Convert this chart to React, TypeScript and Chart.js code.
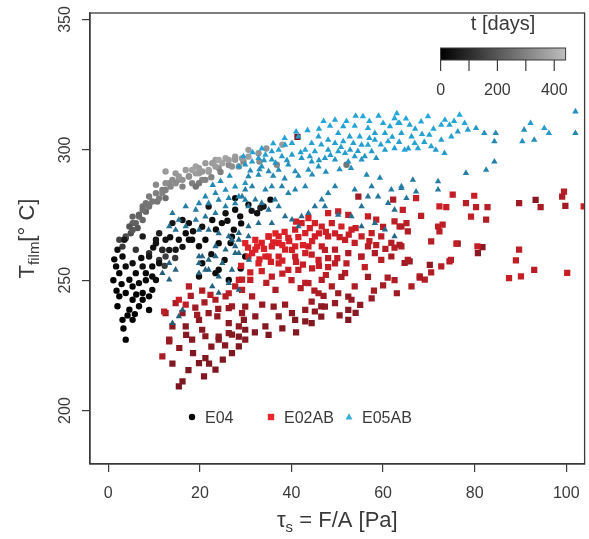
import { useEffect, useRef } from 'react';
import Chart from 'chart.js/auto';

const X_TICKS = [0, 20, 40, 60, 80, 100];
const Y_TICKS = [200, 250, 300, 350];
const T_TICKS = [0, 100, 200, 300, 400];
const T_LABELS = [0, 200, 400];
const T_MAX = 440;

// [tau_s (Pa), T_film (deg C), t (days)]
const e04: number[][] = [
  [12.5, 291.7, 400], [14.7, 291.0, 390], [16.9, 292.3, 410], [19.1, 293.6, 420], [21.2, 294.9, 400],
  [23.4, 296.1, 410], [25.6, 296.8, 420], [27.7, 297.4, 400], [15.4, 288.5, 370], [17.6, 289.8, 380],
  [19.8, 291.0, 390], [21.9, 291.7, 380], [24.1, 293.0, 370], [26.3, 294.2, 360], [10.4, 286.6, 360],
  [11.8, 284.6, 330], [13.3, 287.2, 350], [8.9, 282.1, 320], [10.7, 280.2, 300], [12.5, 281.5, 280],
  [7.5, 278.3, 300], [6.7, 274.4, 280], [8.2, 276.3, 260], [5.3, 271.9, 250], [6.4, 270.0, 220],
  [4.9, 268.0, 200], [3.8, 266.1, 180], [3.1, 262.9, 150], [8.9, 278.9, 320], [16.2, 285.9, 340],
  [18.3, 287.2, 330], [20.5, 288.5, 350], [28.5, 293.6, 380], [30.6, 300.0, 400], [32.8, 298.7, 380],
  [27.7, 296.2, 390], [27.0, 293.6, 370], [36.8, 294.3, 350], [52.0, 294.3, 300], [34.5, 300.5, 380],
  [38.0, 302.0, 400], [24.5, 291.5, 330], [22.5, 289.5, 340], [29.5, 295.5, 350], [33.0, 295.5, 360],
  [2.4, 265.5, 170], [3.8, 266.8, 200], [5.3, 269.3, 230], [6.0, 271.9, 250], [7.5, 273.1, 270],
  [6.7, 275.1, 260], [8.9, 278.3, 300], [9.6, 280.2, 310], [11.1, 281.4, 320], [11.8, 283.4, 340],
  [12.5, 284.6, 330], [13.6, 285.9, 350], [14.7, 287.2, 360], [16.2, 288.5, 380], [17.6, 289.8, 370],
  [19.1, 291.0, 400], [20.5, 291.7, 390], [21.9, 292.3, 410], [23.4, 293.6, 400], [24.9, 294.9, 420],
  [26.3, 296.1, 410], [29.2, 296.8, 400], [30.6, 297.4, 410], [15.4, 289.8, 390], [18.3, 292.3, 420],
  [19.8, 293.0, 410], [22.7, 294.9, 400], [24.1, 296.1, 430], [12.5, 287.2, 370], [14.0, 288.5, 360],
  [10.4, 283.4, 330], [8.2, 279.5, 300], [7.5, 277.0, 290], [5.3, 274.4, 260], [4.6, 270.6, 220],
  [19.8, 287.2, 320], [21.2, 288.5, 340], [19.1, 285.9, 300],
  [3.5, 265.5, 60], [2.0, 261.7, 40], [3.1, 259.1, 30], [1.7, 255.3, 20], [2.4, 252.7, 10],
  [3.8, 255.3, 30], [5.3, 256.5, 40], [4.6, 250.2, 10], [5.3, 247.6, 5], [6.7, 248.9, 20],
  [3.8, 245.1, 5], [5.3, 242.5, 0], [2.4, 243.8, 10], [2.0, 240.0, 0], [4.6, 238.7, 5],
  [6.7, 240.0, 15], [3.1, 234.8, 0], [5.3, 234.8, 5], [3.8, 227.2, 0], [8.2, 252.7, 20],
  [9.6, 251.4, 30], [7.5, 255.3, 40], [9.6, 255.3, 30], [11.1, 257.8, 140], [12.5, 259.1, 160],
  [11.8, 261.7, 180], [10.4, 265.5, 60], [12.5, 265.5, 50], [15.4, 265.5, 40], [16.9, 268.0, 30],
  [18.3, 265.5, 20], [19.8, 263.0, 30], [14.7, 261.7, 60], [8.9, 260.4, 120], [6.0, 261.7, 130],
  [7.5, 266.8, 70], [21.2, 265.5, 20], [22.7, 273.1, 40], [24.8, 271.9, 30], [25.6, 275.7, 50],
  [27.7, 277.0, 40], [21.9, 278.3, 60], [17.6, 271.9, 40], [16.2, 273.1, 50], [14.0, 271.9, 60],
  [11.1, 268.0, 80], [6.0, 252.7, 20], [7.5, 245.1, 10], [8.9, 243.8, 20], [27.7, 281.5, 30],
  [33.2, 277.7, 90], [33.9, 278.3, 60], [32.5, 275.7, 40], [35.4, 280.9, 30], [30.6, 279.0, 40],
  [29.9, 259.1, 20], [27.4, 269.4, 30], [26.7, 264.3, 20], [10.4, 264.2, 50], [11.8, 261.6, 100],
  [8.9, 259.1, 60], [11.1, 256.5, 40], [8.2, 250.0, 20], [10.4, 250.1, 30], [9.6, 246.3, 20],
  [7.5, 242.5, 10], [8.9, 238.6, 10], [13.3, 261.6, 60], [17.6, 265.5, 30], [19.8, 251.4, 40],
  [23.4, 252.7, 30], [26.3, 250.1, 20], [24.1, 254.0, 40], [27.0, 266.7, 30], [24.1, 264.2, 20],
  [1.3, 258.0, 20], [1.1, 250.0, 10], [2.9, 248.5, 5], [1.8, 246.0, 5], [4.2, 236.5, 0],
  [3.3, 231.5, 0], [6.1, 244.5, 10], [5.8, 237.0, 5], [7.2, 258.5, 30], [9.8, 262.5, 40],
  [13.5, 266.5, 40], [14.6, 258.5, 150], [12.3, 255.5, 150], [16.2, 262.8, 50], [18.5, 268.8, 40],
  [20.5, 270.5, 50], [23.5, 269.5, 30], [26.0, 272.8, 40], [28.8, 274.5, 40], [31.3, 276.6, 50],
  [29.0, 271.8, 30], [22.5, 260.0, 40], [20.5, 256.5, 30], [25.4, 257.8, 40], [28.9, 254.5, 30],
];

const e02ab: number[][] = [
  [67.2, 281.5, 300], [64.3, 277.0, 280], [68.3, 274.7, 250], [65.1, 271.9, 260], [63.6, 270.6, 240],
  [65.4, 268.7, 220], [63.6, 263.6, 200], [72.3, 278.3, 320], [73.8, 278.0, 300], [75.2, 282.8, 280],
  [78.1, 279.6, 250], [79.9, 282.4, 300], [80.3, 278.0, 260], [82.8, 278.0, 240], [79.2, 274.4, 280],
  [82.5, 273.2, 220], [72.0, 270.6, 290], [73.0, 271.3, 270], [72.3, 268.7, 250], [70.5, 264.9, 240],
  [76.3, 264.0, 100], [81.7, 262.7, 80], [80.7, 260.4, 60], [74.5, 257.2, 200], [72.7, 255.3, 250],
  [70.2, 255.9, 100], [64.7, 256.6, 150], [65.8, 257.2, 120], [68.0, 251.5, 280], [69.1, 250.2, 240],
  [66.2, 247.6, 200], [89.7, 279.6, 150], [93.3, 280.8, 60], [94.4, 278.0, 200], [99.5, 284.0, 250],
  [99.1, 282.1, 200], [99.8, 278.5, 150], [103.8, 278.3, 300], [89.7, 261.7, 260], [89.0, 257.6, 280],
  [87.5, 250.8, 300], [90.1, 251.5, 280], [93.0, 254.0, 250], [100.2, 252.8, 300], [41.3, 305.0, 20],
  [54.6, 282.1, 150], [62.2, 280.9, 200], [50.2, 276.4, 300], [52.4, 275.1, 280], [48.0, 275.7, 320],
  [56.7, 274.5, 300], [58.5, 273.2, 280], [62.5, 272.6, 260], [43.7, 273.8, 350], [45.1, 271.9, 340],
  [42.2, 271.9, 330], [46.6, 270.6, 320], [48.8, 271.9, 300], [50.9, 270.6, 350], [53.1, 269.4, 320],
  [55.3, 266.8, 300], [57.5, 268.1, 280], [59.6, 266.8, 260], [61.8, 264.3, 240], [64.0, 263.0, 200],
  [40.8, 269.4, 330], [43.0, 268.1, 350], [45.1, 266.8, 340], [48.0, 266.8, 310], [51.7, 265.5, 300],
  [53.8, 264.3, 280], [56.7, 263.0, 260], [58.2, 260.4, 200], [61.8, 259.1, 180], [37.2, 266.8, 380],
  [39.3, 266.2, 360], [35.0, 266.8, 370], [33.5, 264.3, 380], [35.7, 263.0, 350], [38.6, 261.7, 340],
  [40.8, 263.0, 360], [43.7, 263.0, 340], [46.6, 263.0, 300], [49.5, 261.7, 250], [52.4, 260.4, 200],
  [32.1, 261.7, 360], [30.6, 259.1, 380], [34.3, 259.1, 350], [37.2, 259.1, 330], [40.8, 259.1, 310],
  [44.4, 259.8, 280], [48.0, 258.5, 250], [55.3, 259.1, 200], [64.0, 270.6, 220],
  [17.6, 247.6, 250], [14.7, 241.2, 200], [16.2, 237.4, 100], [12.5, 237.4, 150], [14.0, 232.3, 80],
  [16.9, 232.3, 60], [19.8, 234.8, 80], [21.9, 237.4, 120], [23.4, 242.5, 200], [25.6, 243.8, 220],
  [27.7, 247.6, 260], [29.2, 250.2, 280], [27.0, 240.0, 150], [29.2, 237.4, 120], [18.3, 227.2, 50],
  [21.2, 228.5, 70], [13.3, 227.2, 100], [24.1, 227.2, 60], [26.3, 229.7, 80], [28.5, 232.3, 100],
  [29.9, 227.2, 60], [12.2, 238.0, 250], [13.3, 226.5, 120], [11.8, 220.8, 200], [15.4, 242.5, 300],
  [16.9, 240.6, 280], [19.4, 236.7, 150], [20.5, 231.0, 60], [22.3, 244.4, 250], [23.8, 236.1, 100],
  [21.2, 220.1, 30], [19.8, 218.2, 20], [23.4, 215.7, 40], [20.9, 213.1, 30], [16.2, 211.2, 20],
  [15.4, 209.3, 10], [26.3, 239.3, 120], [26.3, 233.5, 80], [24.1, 228.4, 60], [27.0, 229.1, 50],
  [28.5, 228.4, 40], [28.5, 224.6, 30], [27.0, 222.0, 20], [29.6, 234.8, 60], [29.9, 239.9, 100],
  [29.9, 231.0, 40], [31.4, 243.8, 200], [31.0, 250.1, 300], [32.1, 236.1, 80], [33.6, 240.6, 120],
  [34.3, 232.3, 50], [36.1, 239.9, 100], [37.2, 236.1, 60], [36.5, 246.3, 200], [38.6, 240.6, 120],
  [40.1, 237.4, 80], [40.8, 234.8, 40], [43.0, 238.6, 100], [43.0, 234.2, 50], [44.4, 233.5, 30],
  [45.1, 238.0, 80], [44.4, 241.8, 150], [45.9, 245.0, 200], [47.3, 239.9, 100], [49.5, 241.2, 120],
  [52.4, 238.6, 60], [52.4, 234.8, 40], [39.3, 254.0, 300], [41.5, 254.0, 280], [37.2, 256.5, 320],
  [35.7, 251.4, 280], [32.8, 256.5, 350], [35.0, 259.1, 380], [31.4, 260.4, 380], [29.9, 264.2, 400],
  [32.1, 265.5, 390], [35.0, 266.7, 360], [37.2, 264.2, 370], [40.1, 261.6, 340], [43.0, 260.4, 320],
  [45.9, 257.8, 300], [47.3, 261.6, 280], [49.5, 256.5, 250], [51.7, 252.7, 220], [53.8, 247.6, 200],
  [43.7, 248.9, 250], [46.6, 250.1, 230], [48.8, 247.6, 200], [50.2, 245.0, 150], [53.1, 242.5, 120],
  [28.5, 250.1, 300], [26.3, 245.0, 250], [29.2, 246.3, 270], [54.0, 237.5, 60], [68.0, 251.0, 200],
  [63.0, 245.0, 150], [70.5, 253.0, 220], [58.0, 246.0, 180], [52.4, 243.7, 100], [46.5, 240.0, 80],
  [43.0, 249.0, 250], [48.0, 255.0, 300], [56.0, 255.0, 280], [61.0, 251.0, 200], [74.8, 257.8, 250],
  [76.0, 264.0, 280], [80.6, 263.0, 300], [65.4, 257.8, 200], [56.7, 251.3, 150], [59.6, 257.8, 250],
  [50.9, 251.3, 180], [55.2, 259.0, 240],
  [30.5, 262.5, 380], [32.5, 263.0, 400], [34.0, 262.0, 390], [36.0, 264.5, 380], [38.0, 263.5, 400],
  [39.5, 265.0, 370], [41.5, 266.5, 360], [42.5, 263.5, 380], [44.5, 265.0, 350], [46.0, 268.0, 340],
  [47.5, 268.5, 330], [49.5, 268.0, 320], [50.5, 266.5, 300], [52.5, 267.5, 310], [54.0, 270.0, 300],
  [44.0, 270.0, 360], [41.0, 272.5, 340], [38.5, 268.5, 380], [36.5, 268.0, 390], [33.0, 258.0, 360],
  [35.5, 257.0, 340], [38.0, 257.5, 350], [41.0, 257.0, 330], [42.5, 256.0, 310], [44.5, 254.5, 290],
  [46.0, 255.5, 300], [33.5, 253.5, 320], [31.0, 253.0, 330], [29.0, 255.5, 340], [34.5, 249.0, 260],
  [38.0, 252.5, 300], [40.0, 250.0, 260], [42.0, 247.0, 220], [45.0, 246.0, 200], [47.5, 252.0, 260],
  [50.0, 258.5, 280], [52.0, 256.5, 260], [57.0, 265.0, 280], [58.5, 263.5, 260], [60.5, 262.0, 240],
  [62.5, 262.5, 230], [60.0, 270.5, 250],
  [18.0, 244.0, 200], [20.5, 246.0, 220], [17.0, 229.0, 60], [15.5, 224.0, 80], [18.5, 222.0, 40],
  [22.5, 224.5, 50], [25.5, 225.0, 60], [14.0, 218.0, 30], [17.5, 215.5, 20], [22.0, 218.0, 30],
  [25.0, 219.5, 40], [19.0, 239.5, 150], [21.0, 241.5, 170], [24.0, 239.0, 130], [32.0, 230.0, 40],
  [35.0, 229.0, 30], [38.0, 231.5, 50], [41.0, 230.0, 40], [46.5, 236.0, 60], [50.5, 236.5, 70],
  [47.0, 244.0, 150], [55.0, 240.5, 100], [57.5, 243.0, 120], [60.0, 248.0, 180], [62.5, 250.0, 200],
];

const e05ab: number[][] = [
  [63.6, 310.2, 400], [65.8, 309.6, 380], [68.3, 310.8, 410], [69.8, 312.8, 420], [72.7, 309.6, 400],
  [74.5, 309.6, 390], [76.7, 313.4, 420], [77.8, 310.2, 400], [78.5, 307.7, 380], [80.3, 308.3, 350],
  [82.1, 306.4, 300], [84.6, 306.4, 250], [84.3, 303.2, 250], [66.2, 305.1, 380], [66.9, 302.6, 400],
  [64.7, 300.0, 390], [67.6, 300.6, 400], [70.1, 305.7, 380], [70.5, 301.3, 390], [72.7, 303.8, 370],
  [73.4, 298.7, 360], [74.9, 305.1, 380], [76.3, 307.0, 360], [92.2, 310.2, 350], [90.8, 307.7, 300],
  [95.2, 308.3, 380], [96.2, 306.4, 350], [93.0, 303.8, 280], [90.4, 303.2, 300], [102.0, 314.7, 300],
  [102.0, 306.4, 250], [84.3, 295.5, 200], [82.5, 292.3, 230], [78.1, 291.1, 200], [72.0, 287.9, 200],
  [66.5, 288.5, 180], [64.0, 285.3, 200], [67.2, 284.0, 170], [72.0, 284.7, 180], [65.1, 281.5, 160],
  [55.6, 312.8, 420], [60.0, 310.2, 400], [62.5, 312.1, 410], [63.3, 310.2, 400], [64.0, 306.4, 380],
  [48.4, 309.2, 400], [51.3, 309.0, 390], [53.8, 309.2, 410], [56.7, 308.3, 400], [58.2, 306.4, 380],
  [60.4, 306.4, 390], [50.2, 306.4, 380], [52.7, 305.1, 370], [54.9, 305.1, 400], [48.0, 303.8, 390],
  [49.5, 302.6, 360], [51.3, 303.2, 400], [53.5, 302.6, 380], [55.3, 301.9, 360], [56.7, 301.9, 400],
  [58.2, 303.8, 380], [61.1, 303.2, 400], [62.5, 300.6, 390], [60.4, 300.0, 370], [57.5, 299.4, 360],
  [56.0, 297.5, 330], [53.8, 297.5, 350], [51.7, 298.7, 370], [50.2, 299.4, 380], [48.0, 300.0, 350],
  [47.3, 296.8, 330], [49.5, 296.2, 320], [52.4, 295.5, 300], [55.3, 296.2, 320], [58.5, 296.8, 300],
  [45.9, 305.1, 380], [44.4, 302.6, 390], [43.0, 300.0, 400], [45.1, 299.4, 370], [41.5, 305.1, 360],
  [40.1, 302.6, 380], [38.6, 301.9, 400], [37.2, 300.0, 390], [35.7, 299.4, 370], [34.3, 298.1, 380],
  [32.8, 296.8, 360], [31.4, 295.5, 350], [29.9, 294.3, 340], [28.5, 293.6, 330], [33.5, 293.6, 300],
  [35.7, 296.2, 320], [37.9, 297.5, 350], [40.1, 298.1, 360], [42.2, 296.8, 340], [44.4, 295.5, 330],
  [39.3, 294.3, 300], [37.2, 292.3, 280], [35.0, 291.7, 260], [32.8, 290.4, 250], [30.6, 289.8, 240],
  [40.8, 291.7, 280], [43.7, 292.3, 300], [45.9, 293.6, 310], [56.4, 290.4, 250], [59.3, 289.2, 230],
  [57.5, 286.0, 200], [61.8, 284.7, 180], [64.0, 286.0, 200], [58.9, 282.1, 160], [56.7, 282.1, 150],
  [61.1, 279.6, 140], [62.5, 277.0, 120], [55.3, 278.3, 150], [53.8, 284.7, 200], [49.5, 286.0, 220],
  [48.0, 283.4, 200], [46.6, 280.9, 180], [45.1, 278.3, 150], [43.7, 275.7, 140], [42.2, 274.5, 120],
  [47.3, 278.3, 160], [43.0, 286.0, 250], [40.8, 284.7, 230], [39.3, 283.4, 220], [37.9, 286.0, 240],
  [35.7, 286.0, 250], [34.3, 284.7, 230], [31.4, 286.0, 220], [29.9, 284.7, 210], [29.2, 282.1, 180],
  [30.6, 278.3, 150], [32.1, 280.9, 170], [33.5, 279.6, 160], [36.4, 280.9, 200], [35.0, 277.0, 150],
  [37.2, 278.3, 170], [38.6, 274.5, 130], [40.1, 273.2, 120], [41.5, 270.6, 100], [35.7, 271.9, 110],
  [32.8, 271.9, 100], [30.6, 270.6, 90], [28.5, 268.1, 80], [27.0, 265.5, 70], [30.6, 266.8, 80],
  [27.7, 263.0, 60], [50.2, 275.1, 130], [53.1, 274.5, 120], [55.3, 270.6, 100], [58.2, 271.9, 110],
  [60.4, 269.4, 90], [62.5, 266.8, 80], [21.2, 282.1, 250], [23.4, 283.4, 270], [25.6, 284.6, 280],
  [27.7, 285.9, 300], [29.9, 287.2, 320], [19.8, 279.5, 230], [21.9, 279.5, 220], [24.1, 280.8, 240],
  [26.3, 281.5, 250], [28.5, 282.1, 260], [16.9, 278.3, 200], [19.1, 277.0, 180], [14.0, 275.7, 160],
  [15.4, 273.1, 150], [13.3, 270.6, 130], [14.7, 269.3, 120], [16.9, 270.6, 140], [19.1, 273.1, 160],
  [21.2, 274.4, 170], [23.4, 275.7, 190], [25.6, 278.3, 210], [27.7, 279.5, 220], [29.9, 280.8, 230],
  [19.8, 269.3, 120], [21.9, 269.3, 110], [24.1, 268.0, 100], [26.3, 266.8, 90], [28.5, 265.5, 80],
  [23.4, 263.0, 90], [25.6, 261.7, 80], [27.7, 260.4, 70], [19.8, 259.1, 60], [21.9, 257.8, 60],
  [11.8, 252.7, 40], [13.3, 250.2, 40], [19.8, 252.7, 60], [21.9, 254.0, 70], [24.1, 251.4, 60],
  [27.0, 254.0, 70], [22.7, 247.6, 50], [24.1, 245.1, 40], [26.3, 248.9, 60], [28.5, 246.3, 50],
  [13.3, 256.5, 60], [14.7, 254.0, 50], [19.8, 256.5, 70], [21.2, 254.0, 60], [23.4, 259.1, 80],
  [24.9, 256.5, 70], [20.5, 259.1, 80], [15.4, 236.1, 30], [14.0, 233.5, 20], [16.2, 238.6, 30],
  [28.5, 260.4, 80], [30.7, 257.8, 70],
  [29.5, 297.5, 380], [31.5, 299.0, 390], [33.5, 300.5, 400], [36.0, 302.5, 410], [38.5, 304.5, 420],
  [41.0, 307.0, 410], [43.5, 307.5, 420], [46.0, 308.0, 400], [47.0, 311.0, 420], [49.5, 311.5, 410],
  [52.0, 311.0, 420], [54.0, 313.0, 400], [57.0, 311.0, 420], [59.0, 313.0, 410], [61.5, 309.0, 400],
  [63.0, 314.0, 420], [65.0, 312.0, 410], [67.0, 308.0, 400], [68.5, 306.0, 390], [71.0, 308.0, 410],
  [73.5, 311.5, 420], [75.5, 311.0, 400], [46.5, 302.0, 380], [48.5, 298.0, 350], [50.8, 301.0, 370],
  [52.8, 300.0, 360], [54.5, 299.5, 350], [57.0, 304.5, 390], [59.5, 302.0, 370], [62.0, 305.0, 390],
  [63.5, 303.0, 380], [65.5, 300.5, 360], [69.0, 303.0, 380], [71.5, 300.0, 360], [42.0, 299.0, 370],
  [44.0, 297.5, 350], [46.0, 296.0, 330], [39.0, 296.0, 330], [36.5, 295.0, 320], [34.0, 296.0, 340],
  [31.0, 292.0, 280], [33.0, 292.5, 290], [36.0, 290.0, 260], [38.5, 289.0, 250], [41.5, 290.0, 270],
  [44.5, 290.5, 280], [47.5, 291.5, 290], [50.5, 292.5, 300], [53.0, 293.0, 300], [26.5, 290.0, 290],
  [24.5, 288.0, 270], [22.8, 286.5, 260],
];

const FONT = '"Liberation Sans", Arial, Helvetica, sans-serif';
const INK = '#3a3a3a';

const mix = (a: number[], b: number[], t: number) => {
  const f = Math.max(0, Math.min(1, t / T_MAX));
  const c = a.map((v, i) => Math.round(v + (b[i] - v) * f));
  return `rgb(${c[0]},${c[1]},${c[2]})`;
};
const grayAt = (t: number) => mix([0, 0, 0], [170, 170, 170], t);
const redAt = (t: number) => mix([120, 22, 32], [236, 34, 40], t);
const blueAt = (t: number) => mix([36, 88, 114], [36, 170, 224], t);

const decorations = {
  id: 'decorations',
  afterDraw(chart: any) {
    const { ctx, chartArea: a, scales } = chart;
    const midX = (a.left + a.right) / 2;
    const midY = (a.top + a.bottom) / 2;
    ctx.save();

    // box
    ctx.strokeStyle = INK;
    ctx.lineWidth = 1.3;
    ctx.strokeRect(a.left, a.top, a.right - a.left, a.bottom - a.top);

    // y tick labels, rotated like R
    ctx.fillStyle = INK;
    ctx.font = `16px ${FONT}`;
    ctx.textAlign = 'center';
    ctx.textBaseline = 'alphabetic';
    for (const v of Y_TICKS) {
      const y = scales.y.getPixelForValue(v);
      ctx.save();
      ctx.translate(a.left - 20, y);
      ctx.rotate(-Math.PI / 2);
      ctx.fillText(String(v), 0, 0);
      ctx.restore();
    }

    // axis titles with subscripts
    const drawRuns = (runs: [string, number, number][], cx: number) => {
      ctx.textAlign = 'left';
      const widths = runs.map(([s, size]) => {
        ctx.font = `${size}px ${FONT}`;
        return ctx.measureText(s).width;
      });
      let x = cx - widths.reduce((p, w) => p + w, 0) / 2;
      runs.forEach(([s, size, dy], i) => {
        ctx.font = `${size}px ${FONT}`;
        ctx.fillText(s, x, dy);
        x += widths[i];
      });
    };
    ctx.save();
    ctx.translate(0, 527);
    drawRuns([['τ', 22, 0], ['s', 15, 5], [' = F/A [Pa]', 22, 0]], midX);
    ctx.restore();
    ctx.save();
    ctx.translate(34, midY);
    ctx.rotate(-Math.PI / 2);
    drawRuns([['T', 22, 0], ['film', 15, 5], ['[° C]', 22, 0]], 0);
    ctx.restore();

    // colour bar for t [days]
    const bx0 = a.right - 144;
    const bx1 = a.right - 19;
    const by0 = a.top + 35;
    const by1 = a.top + 47;
    const tx = (t: number) => bx0 + (t / T_MAX) * (bx1 - bx0);
    const grad = ctx.createLinearGradient(bx0, 0, bx1, 0);
    grad.addColorStop(0, grayAt(0));
    grad.addColorStop(1, mix([0, 0, 0], [190, 190, 190], T_MAX));
    ctx.fillStyle = grad;
    ctx.fillRect(bx0, by0, bx1 - bx0, by1 - by0);
    ctx.lineWidth = 1;
    ctx.strokeStyle = INK;
    ctx.strokeRect(bx0, by0, bx1 - bx0, by1 - by0);
    ctx.lineWidth = 1.2;
    ctx.beginPath();
    for (const t of T_TICKS) {
      ctx.moveTo(tx(t), by1);
      ctx.lineTo(tx(t), by1 + 11);
    }
    ctx.stroke();
    ctx.fillStyle = INK;
    ctx.textAlign = 'center';
    ctx.font = `20px ${FONT}`;
    ctx.fillText('t [days]', (bx0 + bx1) / 2, a.top + 17);
    ctx.font = `16px ${FONT}`;
    for (const t of T_LABELS) ctx.fillText(String(t), tx(t), by1 + 35);

    // legend
    const ly = a.bottom - 47;
    const entries: [string, number, string, string][] = [
      ['E04', a.left + 102, 'circle', '#000000'],
      ['E02AB', a.left + 181, 'rect', '#e5282f'],
      ['E05AB', a.left + 259, 'triangle', '#35acdc'],
    ];
    ctx.font = `16px ${FONT}`;
    ctx.textAlign = 'left';
    for (const [label, mx, shape, color] of entries) {
      ctx.fillStyle = color;
      ctx.beginPath();
      if (shape === 'circle') ctx.arc(mx, ly, 3.2, 0, Math.PI * 2);
      else if (shape === 'rect') ctx.rect(mx - 3.2, ly - 3.2, 6.4, 6.4);
      else {
        ctx.moveTo(mx, ly - 3.8);
        ctx.lineTo(mx + 3.4, ly + 2.4);
        ctx.lineTo(mx - 3.4, ly + 2.4);
        ctx.closePath();
      }
      ctx.fill();
      ctx.fillStyle = INK;
      ctx.fillText(label, mx + 13, ly + 6);
    }
    ctx.restore();
  },
};

export default function App() {
  const canvasRef = useRef<HTMLCanvasElement>(null);
  const chartRef = useRef<Chart | null>(null);

  useEffect(() => {
    if (!canvasRef.current) return;
    if (chartRef.current) chartRef.current.destroy();

    const axisGrid = { drawOnChartArea: false, drawTicks: true, tickLength: 8, color: INK, lineWidth: 1.2 };
    const axisBorder = { display: true, color: INK, width: 1.3 };

    chartRef.current = new Chart(canvasRef.current, {
      type: 'scatter',
      data: {
        datasets: [
          {
            label: 'E04',
            data: e04.map(([x, y]) => ({ x, y })),
            pointStyle: 'circle',
            pointRadius: 3.2,
            pointBorderWidth: 0,
            pointBackgroundColor: e04.map((p) => grayAt(p[2])),
            order: 3,
          },
          {
            label: 'E02AB',
            data: e02ab.map(([x, y]) => ({ x, y })),
            pointStyle: 'rect',
            pointRadius: 4.4,
            pointBorderWidth: 0,
            pointBackgroundColor: e02ab.map((p) => redAt(p[2])),
            order: 2,
          },
          {
            label: 'E05AB',
            data: e05ab.map(([x, y]) => ({ x, y })),
            pointStyle: 'triangle',
            pointRadius: 3.7,
            pointBorderWidth: 0,
            pointBackgroundColor: e05ab.map((p) => blueAt(p[2])),
            order: 1,
          },
        ],
      },
      options: {
        animation: false,
        responsive: true,
        maintainAspectRatio: false,
        layout: { padding: { top: 13, right: 3, left: 0, bottom: 0 } },
        plugins: { legend: { display: false }, tooltip: { enabled: false } },
        scales: {
          x: {
            type: 'linear',
            min: -4,
            max: 104,
            afterBuildTicks: (s: any) => { s.ticks = X_TICKS.map((value) => ({ value })); },
            afterFit: (s: any) => { s.height = 75; s.paddingLeft = 0; s.paddingRight = 0; },
            grid: axisGrid,
            border: axisBorder,
            ticks: { color: INK, font: { family: FONT, size: 16 }, padding: 12, maxRotation: 0, autoSkip: false },
          },
          y: {
            type: 'linear',
            min: 179.5,
            max: 352.5,
            afterBuildTicks: (s: any) => { s.ticks = Y_TICKS.map((value) => ({ value })); },
            afterFit: (s: any) => { s.width = 90; s.paddingTop = 0; s.paddingBottom = 0; },
            grid: axisGrid,
            border: axisBorder,
            ticks: { display: false },
          },
        },
      },
      plugins: [decorations],
    });

    return () => chartRef.current?.destroy();
  }, []);

  return (
    <div style={{ position: 'fixed', left: 0, top: 0, width: 589, height: 539, background: '#fff' }}>
      <canvas ref={canvasRef} />
    </div>
  );
}
